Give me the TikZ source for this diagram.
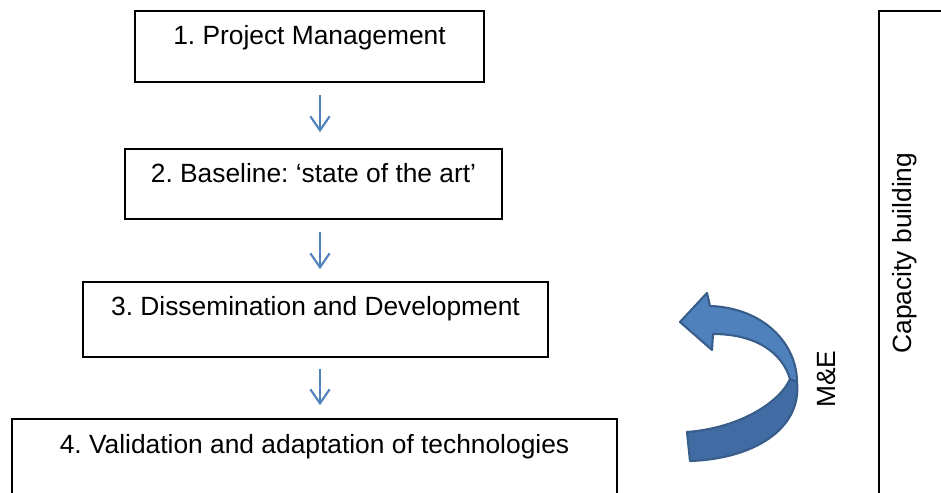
\documentclass[tikz,border=0pt]{standalone}
\usepackage{fontspec}
\setmainfont{Liberation Sans}
\frenchspacing
\usetikzlibrary{arrows.meta}
\usetikzlibrary{calc}
\usetikzlibrary{positioning}
\definecolor{flowblue}{RGB}{79,129,189}
\definecolor{bendblue}{RGB}{65,108,163}
\definecolor{bendline}{RGB}{56,93,138}
\tikzset{stage/.style = {draw, line width = 0.9pt, inner sep = 0, text height = 0.68cm,
    font = \fontsize{15}{18}\selectfont}}
\tikzset{flow/.style = {draw = flowblue, line width = 1.2pt,
    -{Straight Barb[length = 8pt, width = 11pt]}}}
\tikzset{bentarrow/.style = {draw = bendline, line width = 1.2pt, line join = round}}

\begin{document}
\begin{tikzpicture}[x = 0.02cm, y = -0.02cm]
      \useasboundingbox (0, 0) rectangle (941, 493);
      \clip (0, 0) rectangle (941, 493);

      % the four stages
      \node [stage, minimum width = 6.98cm, text depth = 0.74cm] (pm) at (309.5, 46.5)
        {1. Project Management};
      \node [stage, minimum width = 7.54cm, text depth = 0.72cm] (base) at (313.5, 184)
        {2. Baseline: `state of the art'};
      \node [stage, minimum width = 9.30cm, text depth = 0.82cm] (dissem) at (315.5, 319.5)
        {3. Dissemination and Development};
      \node [stage, minimum width = 12.10cm, text depth = 1.12cm] (valid) at (314.5, 464)
        {4. Validation and adaptation of technologies};

      \coordinate (ax) at (320, 0);
      \draw [flow] ($(pm.south -| ax) + (0, 12)$) -- ($(base.north -| ax) + (0, -16)$);
      \draw [flow] ($(base.south -| ax) + (0, 12)$) -- ($(dissem.north -| ax) + (0, -12)$);
      \draw [flow] ($(dissem.south -| ax) + (0, 11)$) -- ($(valid.north -| ax) + (0, -13)$);

      % capacity building frame
      \draw [line width = 0.9pt] (879, 11) rectangle (980, 540);
      \node [rotate = 90, font = \fontsize{15}{18}\selectfont] (cap) at (905, 253)
        {Capacity building};

      % bent M&E arrow
      \path [bentarrow, fill = bendblue] (790, 379) .. controls (780, 402) and (740, 428) .. (687, 432)
        -- (690, 461) .. controls (752, 459) and (802, 430) .. (797, 382) -- cycle;
      \path [bentarrow, fill = flowblue] (790, 379) .. controls (782, 352) and (755, 334) .. (713, 334)
        -- (712, 350) -- (680, 322) -- (707, 293) -- (710, 306)
        .. controls (765, 308) and (797, 345) .. (797, 382) -- cycle;
      \node [rotate = 90, font = \fontsize{15}{18}\selectfont] (me) at (827, 379) {M\&E};
    \end{tikzpicture}
\end{document}
